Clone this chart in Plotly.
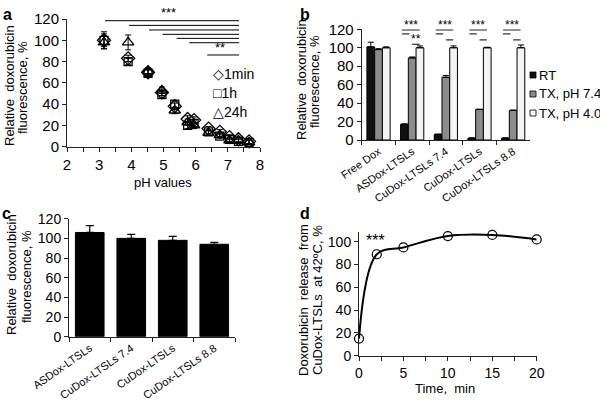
import plotly.graph_objects as go

FONT = "Liberation Sans, Arial, sans-serif"
AX = "#222222"

# ---------------- Panel a data ----------------
ph_values = [3.15, 3.9, 4.52, 4.95, 5.35, 5.75, 5.95, 6.4, 6.75, 7.05, 7.33, 7.66]
fl_1min = [100, 83, 70, 51, 38, 26, 25, 17, 14, 9, 7, 5]
fl_1h = [100, 80, 69, 49, 40, 20, 22, 14, 10, 7, 5, 4]
fl_24h = [98, 98, 71, 53, 34, 23, 20, 13, 11, 6, 6, 4]
err_1min = [8, 3, 3, 3, 3, 3, 3, 2, 2, 2, 2, 2]
err_1h = [6, 3, 3, 3, 3, 3, 3, 2, 2, 2, 2, 2]
err_24h = [6, 7, 3, 3, 3, 3, 3, 2, 2, 2, 2, 2]
legend_a_labels = ["\u25C71min", "\u25A11h", "\u25B324h"]
sig_a_start = [3.18, 3.93, 4.55, 4.97, 5.41, 5.8, 6.36]
sig_a_end = 7.35
sig_a_level = [118.4, 114, 109.7, 105.6, 101.8, 97.7, 86.2]

# ---------------- Panel b data ----------------
groups_b = ["Free Dox", "ASDox-LTSLs", "CuDox-LTSLs 7.4", "CuDox-LTSLs", "CuDox-LTSLs 8.8"]
series_b = ["RT", "TX, pH 7.4", "TX, pH 4.0"]
rt_vals = [101, 17, 6, 2, 2]
rt_err = [5, 0.5, 0.5, 0.3, 0.3]
tx74_vals = [98, 89, 68, 33, 32]
tx74_err = [1, 1, 2, 0.5, 0.5]
tx40_vals = [100, 100, 100, 100, 100]
tx40_err = [1, 2, 2, 0.5, 3]
sig_b_groups = [1, 2, 3, 4]
sig_b_top_level = 119.3
sig_b_left_level = 115
sig_b_right_level = [103.8, 108.5, 108.5, 108.5]
sig_b_right_label = ["**", "", "", ""]

# ---------------- Panel c data ----------------
groups_c = ["ASDox-LTSLs", "CuDox-LTSLs 7.4", "CuDox-LTSLs", "CuDox-LTSLs 8.8"]
c_vals = [106, 100, 98, 94]
c_err = [7, 4, 4, 2]

# ---------------- Panel d data ----------------
time_min = [0, 2, 5, 10, 15, 20]
release = [15, 89, 95, 105, 106, 102]

BAR_COLORS = ["#111111", "#8c8c8c", "#f4f4f4"]

fig = go.Figure()

# Panel a traces
for name, ys, errs, sym, sz in [
    ("1min", fl_1min, err_1min, "diamond-open", 10),
    ("1h", fl_1h, err_1h, "square-open", 8),
    ("24h", fl_24h, err_24h, "triangle-up-open", 10),
]:
    fig.add_trace(go.Scatter(
        x=ph_values, y=ys, mode="markers", name=name,
        marker=dict(symbol=sym, size=sz, color="black", line=dict(width=1.3, color="black")),
        error_y=dict(type="data", array=errs, color="black", thickness=1, width=3),
        xaxis="x", yaxis="y", cliponaxis=False,
    ))

# Panel b traces
for name, vals, errs, col in zip(series_b, [rt_vals, tx74_vals, tx40_vals],
                                 [rt_err, tx74_err, tx40_err], BAR_COLORS):
    fig.add_trace(go.Bar(
        x=groups_b, y=vals, name=name,
        marker=dict(color=col, line=dict(color="black", width=1)),
        error_y=dict(type="data", array=errs, arrayminus=[0] * len(errs), symmetric=False,
                     color="black", thickness=1, width=3),
        xaxis="x2", yaxis="y2",
    ))

# Panel c
fig.add_trace(go.Bar(
    x=groups_c, y=c_vals, name="c",
    marker=dict(color="black", line=dict(color="black", width=1)),
    error_y=dict(type="data", array=c_err, arrayminus=[0] * len(c_err), symmetric=False,
                 color="black", thickness=1.2, width=4),
    xaxis="x3", yaxis="y3",
))

# Panel d
fig.add_trace(go.Scatter(
    x=time_min, y=release, mode="lines+markers", name="release",
    line=dict(shape="spline", smoothing=1.0, color="black", width=2),
    marker=dict(symbol="circle-open", size=9, color="black", line=dict(width=1.2)),
    xaxis="x4", yaxis="y4", cliponaxis=False,
))

shapes = []
annotations = []

# Significance lines panel a
for s, lvl in zip(sig_a_start, sig_a_level):
    shapes.append(dict(type="line", xref="x", yref="y", x0=s, x1=sig_a_end, y0=lvl, y1=lvl,
                       line=dict(color="black", width=1)))
annotations.append(dict(x=(sig_a_start[0] + sig_a_end) / 2 - 0.1, y=sig_a_level[0], xref="x", yref="y",
                        yanchor="bottom", yshift=-1, text="***", showarrow=False,
                        font=dict(size=13, family=FONT, color="black")))
annotations.append(dict(x=(sig_a_start[-1] + sig_a_end) / 2 - 0.1, y=sig_a_level[-1], xref="x", yref="y",
                        yanchor="bottom", yshift=-2, text="**", showarrow=False,
                        font=dict(size=13, family=FONT, color="black")))

# Significance lines panel b
for g, rl, lab in zip(sig_b_groups, sig_b_right_level, sig_b_right_label):
    shapes.append(dict(type="line", xref="x2", yref="y2", x0=g - 0.3, x1=g + 0.22,
                       y0=sig_b_top_level, y1=sig_b_top_level, line=dict(color="black", width=1)))
    shapes.append(dict(type="line", xref="x2", yref="y2", x0=g - 0.3, x1=g - 0.08,
                       y0=sig_b_left_level, y1=sig_b_left_level, line=dict(color="black", width=1)))
    shapes.append(dict(type="line", xref="x2", yref="y2", x0=g, x1=g + 0.22, y0=rl, y1=rl,
                       line=dict(color="black", width=1)))
    annotations.append(dict(x=g - 0.04, y=sig_b_top_level, xref="x2", yref="y2", yanchor="bottom",
                            yshift=-4, text="***", showarrow=False,
                            font=dict(size=12, family=FONT, color="black")))
    if lab:
        annotations.append(dict(x=g + 0.11, y=rl, xref="x2", yref="y2", yanchor="bottom", yshift=-4,
                                text=lab, showarrow=False, font=dict(size=12, family=FONT, color="black")))

# Panel d stars
annotations.append(dict(x=1.9, y=101, xref="x4", yref="y4", text="***", showarrow=False,
                        font=dict(size=16, family=FONT, color="black")))

# Panel a legend (text symbols)
for i, lab in enumerate(legend_a_labels):
    annotations.append(dict(x=211 / 600, y=1 - (74 + 19 * i) / 408, xref="paper", yref="paper",
                            text=lab, showarrow=False, xanchor="left", yanchor="middle",
                            font=dict(size=14, family=FONT, color="black")))

# Panel b legend (keys + text)
for i, (lab, col) in enumerate(zip(series_b, BAR_COLORS)):
    yc = 75 + 19 * i
    shapes.append(dict(type="rect", xref="paper", yref="paper", x0=530 / 600, x1=536 / 600,
                       y0=1 - (yc + 3) / 408, y1=1 - (yc - 3) / 408, fillcolor=col,
                       line=dict(color="black", width=0.8)))
    annotations.append(dict(x=537 / 600, y=1 - yc / 408, xref="paper", yref="paper", text=lab,
                            showarrow=False, xanchor="left", yanchor="middle",
                            font=dict(size=13, family=FONT, color="black")))

# Panel letters
for txt, x, y in [("a", 7, 404), ("b", 305, 404), ("c", 6, 205), ("d", 305, 205)]:
    annotations.append(dict(x=x / 600, y=y / 408, xref="paper", yref="paper", text=f"<b>{txt}</b>",
                            showarrow=False, xanchor="center", yanchor="top",
                            font=dict(size=16, family=FONT, color="black")))

# Axis titles
def vtitle(text, xpx, ypx, size=13):
    annotations.append(dict(x=xpx / 600, y=1 - ypx / 408, xref="paper", yref="paper", text=text,
                            textangle=-90, showarrow=False, xanchor="center", yanchor="middle",
                            font=dict(size=size, family=FONT, color="black")))

def htitle(text, xpx, ypx, size=13):
    annotations.append(dict(x=xpx / 600, y=1 - ypx / 408, xref="paper", yref="paper", text=text,
                            showarrow=False, xanchor="center", yanchor="middle",
                            font=dict(size=size, family=FONT, color="black")))

vtitle("Relative  doxorubicin", 9, 86)
vtitle("fluorescence, %", 22, 88)
vtitle("Relative  doxorubicin", 302, 80)
vtitle("fluorescence, %", 315, 82)
vtitle("Relative  doxorubicin", 11, 275)
vtitle("fluorescence, %", 26, 277)
vtitle("Doxorubicin  release  from", 303, 300)
vtitle("CuDox-LTSLs  at 42ºC, %", 317, 300)
htitle("pH values", 163, 183)
htitle("Time,  min", 445, 388)

def yax(dom, rng, anchor, size):
    return dict(domain=dom, range=rng, dtick=20, anchor=anchor, showline=True, linecolor=AX, linewidth=1,
                ticks="outside", ticklen=4, tickcolor=AX, showgrid=False, zeroline=False,
                tickfont=dict(size=size, family=FONT, color="black"), fixedrange=True, automargin=False)

def xcat(dom, anchor):
    return dict(domain=dom, showline=True, linecolor=AX, ticks="outside", ticklen=4, tickcolor=AX,
                tickson="boundaries", tickangle=-35, tickfont=dict(size=11, family=FONT, color="black"),
                showgrid=False, anchor=anchor, automargin=False)

def xnum(dom, rng, dt, mdt, anchor, size):
    return dict(domain=dom, range=rng, dtick=dt, showline=True, linecolor=AX, ticks="outside", ticklen=4,
                tickcolor=AX, showgrid=False, zeroline=False,
                tickfont=dict(size=size, family=FONT, color="black"),
                minor=dict(dtick=mdt, ticks="outside", ticklen=4, tickcolor=AX), anchor=anchor,
                automargin=False)

fig.update_layout(
    width=600, height=408, margin=dict(l=0, r=0, t=0, b=0, autoexpand=False),
    paper_bgcolor="white", plot_bgcolor="white",
    font=dict(family=FONT, color="black"),
    barmode="group", bargap=0.31, bargroupgap=0,
    showlegend=False,
    xaxis=xnum([67 / 600, 260 / 600], [2, 8], 1, 0.5, "y", 15),
    yaxis=yax([1 - 146.7 / 408, 1 - 19 / 408], [0, 120], "x", 15),
    xaxis2=xcat([361.7 / 600, 530 / 600], "y2"),
    yaxis2=yax([1 - 140 / 408, 1 - 29.3 / 408], [0, 120], "x2", 15),
    xaxis3=xcat([69 / 600, 235 / 600], "y3"),
    yaxis3=yax([1 - 336.7 / 408, 1 - 218.7 / 408], [0, 120], "x3", 14),
    xaxis4=xnum([359 / 600, 536.7 / 600], [0, 20], 5, 2.5, "y4", 14),
    yaxis4=yax([1 - 355.7 / 408, 1 - 231.7 / 408], [0, 108.8], "x4", 14),
    shapes=shapes, annotations=annotations,
)

fig.write_html("out.html", config={"displayModeBar": False},
               post_script="document.body.style.margin='0';document.body.style.padding='0';")
